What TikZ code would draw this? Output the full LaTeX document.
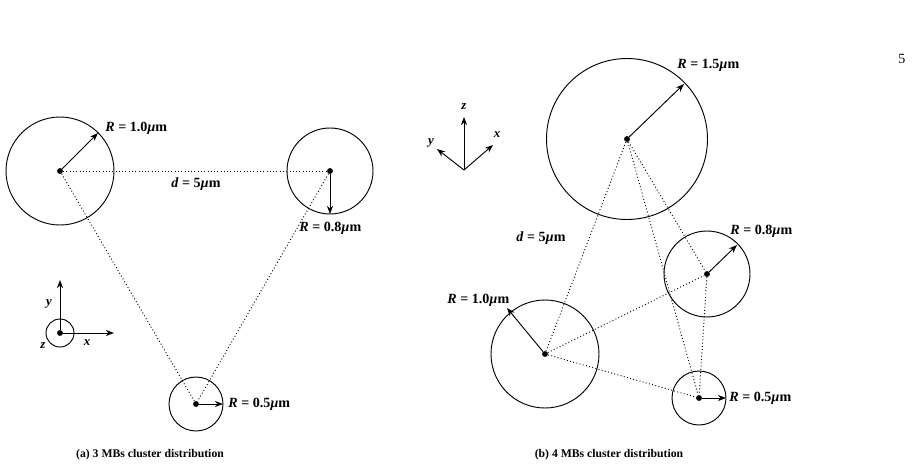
\documentclass[tikz,border=0pt]{standalone}
\usepackage{fontspec}
\setmainfont{Liberation Serif}
\usetikzlibrary{arrows.meta, positioning}
\newcommand{\rlab}[1]{\textbf{\textit{R} = #1\textit{µ}m}}
\newcommand{\dlab}{\textbf{\textit{d} = 5\textit{µ}m}}

\begin{document}
\begin{tikzpicture}[x=0.03cm, y=-0.03cm,
    ctr/.style={circle, fill, inner sep=0pt, minimum size=5pt},
    rad/.style={-{Stealth[length=7pt]}, thick},
    link/.style={dotted, thick},
    lab/.style={font=\fontsize{12}{14}\selectfont, inner sep=1pt},
    ax/.style={-{Stealth[length=7pt]}, thick},
    axl/.style={font=\fontsize{11}{13}\selectfont\bfseries\itshape, inner sep=0pt}]
    \useasboundingbox (0,0) rectangle (916,468);
    \node[font=\fontsize{12}{14}\selectfont] (page) at (902,59) {5};

    % (a) 3 MBs
    \node[ctr] (a1) at (60,171) {};
    \node[ctr] (a2) at (330,171) {};
    \node[ctr] (a3) at (196,404) {};
    \draw[thick] (a1) circle (54);
    \draw[thick] (a2) circle (43);
    \draw[thick] (a3) circle (27);
    \draw[link] (a1) -- (a2);
    \draw[link] (a1) -- (a3);
    \draw[link] (a2) -- (a3);
    \coordinate (a1e) at (98,133);
    \coordinate (a2e) at (330,214);
    \coordinate (a3e) at (223,404);
    \draw[rad] (a1) -- (a1e);
    \draw[rad] (a2) -- (a2e);
    \draw[rad] (a3) -- (a3e);
    \node[lab, anchor=west] (la1) at (104,128) {\rlab{1.0}};
    \node[lab, anchor=west] (la2) at (298,228) {\rlab{0.8}};
    \node[lab, anchor=west] (la3) at (227,404) {\rlab{0.5}};
    \node[lab] (da) at (196,184) {\dlab};
    % axes (a)
    \node[ctr] (oa) at (60,333) {};
    \draw[thick] (oa) circle (14);
    \coordinate (oay) at (60,280);
    \coordinate (oax) at (114,333);
    \draw[ax] (oa) -- (oay);
    \draw[ax] (oa) -- (oax);
    \node[axl] (ya) at (49,304) {y};
    \node[axl] (za) at (43,346) {z};
    \node[axl] (xa) at (87,343) {x};
    \node[font=\fontsize{10}{12}\selectfont\bfseries] (capa) at (150,455) {(a) 3 MBs cluster distribution};

    % (b) 4 MBs
    \node[ctr] (b1) at (627,139) {};
    \node[ctr] (b2) at (707,274) {};
    \node[ctr] (b3) at (545,354) {};
    \node[ctr] (b4) at (699,398) {};
    \draw[thick] (b1) circle (80.5);
    \draw[thick] (b2) circle (43);
    \draw[thick] (b3) circle (54);
    \draw[thick] (b4) circle (27);
    \draw[link] (b1) -- (b3);
    \draw[link] (b1) -- (b2);
    \draw[link] (b1) -- (b4);
    \draw[link] (b3) -- (b2);
    \draw[link] (b3) -- (b4);
    \draw[link] (b2) -- (b4);
    \coordinate (b1e) at (684,84);
    \coordinate (b2e) at (737,245);
    \coordinate (b3e) at (507,308);
    \coordinate (b4e) at (726,398);
    \draw[rad] (b1) -- (b1e);
    \draw[rad] (b2) -- (b2e);
    \draw[rad] (b3) -- (b3e);
    \draw[rad] (b4) -- (b4e);
    \node[lab, anchor=west] (lb1) at (676,65) {\rlab{1.5}};
    \node[lab, anchor=west] (lb2) at (729,231) {\rlab{0.8}};
    \node[lab, anchor=west] (lb3) at (446,300) {\rlab{1.0}};
    \node[lab, anchor=west] (lb4) at (728,398) {\rlab{0.5}};
    \node[lab, anchor=west] (db) at (515,238) {\dlab};
    % axes (b)
    \coordinate (ob) at (464,170);
    \coordinate (obz) at (464,117);
    \coordinate (obx) at (493,145);
    \coordinate (oby) at (437,149);
    \draw[ax] (ob) -- (obz);
    \draw[ax] (ob) -- (obx);
    \draw[ax] (ob) -- (oby);
    \node[axl] (zb) at (464,107) {z};
    \node[axl] (xb) at (497,135) {x};
    \node[axl] (yb) at (431,143) {y};
    \node[font=\fontsize{10}{12}\selectfont\bfseries] (capb) at (609,455) {(b) 4 MBs cluster distribution};
\end{tikzpicture}
\end{document}
